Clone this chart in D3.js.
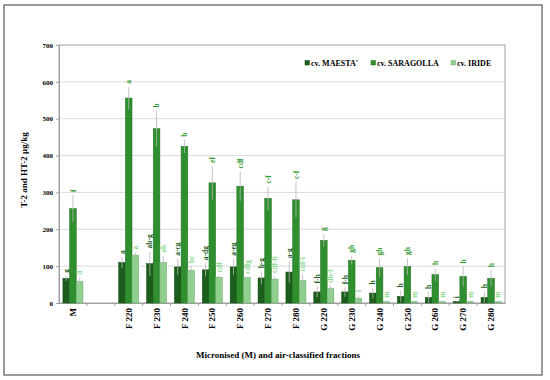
<!DOCTYPE html>
<html>
<head>
<meta charset="utf-8">
<script src="https://cdn.jsdelivr.net/npm/d3@7"></script>
<style>
  body { margin: 0; background: #fff; }
  text { font-family: "Liberation Serif", "Times New Roman", serif; font-weight: bold; }
</style>
</head>
<body>
<div id="chart"></div>
<script>
var svgWidth = 550;
var svgHeight = 380;

// categories (one empty slot between M and F 220)
var categories = ["M", "", "F 220", "F 230", "F 240", "F 250", "F 260", "F 270", "F 280",
  "G 220", "G 230", "G 240", "G 250", "G 260", "G 270", "G 280"];
var seriesNames = ["cv. MAESTA'", "cv. SARAGOLLA", "cv. IRIDE"];
var seriesColors = ["#1b5e1b", "#2f8f2f", "#8fd08f"];
var labelColors = ["#1b5e1b", "#2f9a2f", "#8ad88a"];

var maesta = [67, null, 110, 107, 98, 90, 98, 68, 84, 30, 30, 27, 18, 15, 4, 15];
var saragolla = [256, null, 556, 473, 425, 326, 317, 284, 280, 170, 116, 96, 99, 77, 72, 67];
var iride = [58, null, 130, 110, 89, 70, 69, 65, 61, 39, 13, 4, 4, 4, 4, 4];

var maestaErr = [7, null, 15, 33, 22, 18, 22, 18, 29, 15, 13, 15, 16, 15, 1, 17];
var saragollaErr = [37, null, 31, 49, 18, 46, 40, 32, 48, 17, 12, 25, 23, 18, 27, 22];
var irideErr = [10, null, 7, 18, 11, 5, 2, 8, 16, 8, 9, 2, 2, 2, 2, 2];

var maestaLetters = ["g", null, "a", "ab-g", "a-cg", "a-dg", "a-eg", "b-g", "a-g", "f-h", "f-h", "h", "h", "h", "i", "h"];
var saragollaLetters = ["f", null, "a", "b", "b", "ef", "cdf", "c-f", "c-f", "g", "gh", "gh", "gh", "h", "h", "h"];
var irideLetters = ["d", null, "a", "ab", "bc", "cdf", "cdfg", "cdf-h", "cdf-i", "dh-l", "l", "m", "m", "m", "m", "m"];

var yTicks = [0, 100, 200, 300, 400, 500, 600, 700];

var values = [maesta, saragolla, iride];
var errors = [maestaErr, saragollaErr, irideErr];
var letters = [maestaLetters, saragollaLetters, irideLetters];

var margin = { top: 45, left: 59 };
var width = 446;
var height = 258;

var svg = d3.select("#chart")
  .append("svg")
  .attr("width", svgWidth)
  .attr("height", svgHeight);

// outer frame
svg.append("rect")
  .attr("x", 4).attr("y", 5)
  .attr("width", 538).attr("height", 370)
  .attr("fill", "none")
  .attr("stroke", "#7a7a7a")
  .attr("stroke-width", 1.5);

var chartGroup = svg.append("g")
  .attr("transform", `translate(${margin.left}, ${margin.top})`);

var slotKeys = categories.map((c, i) => "k" + i);

var xScale = d3.scaleBand()
  .domain(slotKeys)
  .range([0, width])
  .padding(0);

var xInner = d3.scaleBand()
  .domain(d3.range(3))
  .range([xScale.bandwidth() * 0.14, xScale.bandwidth() * 0.86])
  .padding(0);

var yScale = d3.scaleLinear()
  .domain([0, 700])
  .range([height, 0]);

// grid lines
chartGroup.append("g")
  .selectAll("line")
  .data(yTicks.filter(t => t > 0 && t < 700))
  .enter()
  .append("line")
  .attr("x1", 0).attr("x2", width)
  .attr("y1", d => yScale(d)).attr("y2", d => yScale(d))
  .attr("stroke", "#dcdcdc")
  .attr("stroke-width", 1);

// plot frame
chartGroup.append("rect")
  .attr("x", 0).attr("y", 0)
  .attr("width", width).attr("height", height)
  .attr("fill", "none")
  .attr("stroke", "#a0a0a0")
  .attr("stroke-width", 1);

// y axis
var yAxis = d3.axisLeft(yScale).tickValues(yTicks).tickSize(3).tickPadding(3);
var yG = chartGroup.append("g").call(yAxis);
yG.select(".domain").attr("stroke", "#a0a0a0");
yG.selectAll(".tick line").attr("stroke", "#a0a0a0");
yG.selectAll("text")
  .attr("font-size", "7px")
  .attr("fill", "#000")
  .style("font-family", "Liberation Serif, serif")
  .style("font-weight", "bold");

// x axis
var xAxis = d3.axisBottom(xScale).tickFormat((d, i) => categories[i]).tickSize(0).tickPadding(0);
var xG = chartGroup.append("g")
  .attr("transform", `translate(0, ${height})`)
  .call(xAxis);
xG.select(".domain").attr("stroke", "#a0a0a0");
xG.selectAll("text")
  .attr("transform", "rotate(-90)")
  .attr("x", -5)
  .attr("y", 0)
  .attr("dy", "0.35em")
  .attr("text-anchor", "end")
  .attr("font-size", "9px")
  .attr("fill", "#000")
  .style("font-family", "Liberation Serif, serif")
  .style("font-weight", "bold");

// small tick marks between categories
chartGroup.append("g")
  .selectAll("line")
  .data(slotKeys.slice(1))
  .enter()
  .append("line")
  .attr("x1", d => xScale(d)).attr("x2", d => xScale(d))
  .attr("y1", height).attr("y2", height + 3)
  .attr("stroke", "#a0a0a0");

// bars
var groups = chartGroup.selectAll(".grp")
  .data(categories.map((c, i) => i).filter(i => categories[i] !== ""))
  .enter()
  .append("g")
  .attr("class", "grp")
  .attr("transform", i => `translate(${xScale(slotKeys[i])}, 0)`);

groups.each(function(i) {
  var g = d3.select(this);
  values.forEach(function(series, s) {
    var v = series[i];
    var e = errors[s][i];
    var bx = xInner(s);
    var bw = xInner.bandwidth();
    g.append("rect")
      .attr("x", bx)
      .attr("y", yScale(v))
      .attr("width", bw)
      .attr("height", yScale(0) - yScale(v))
      .attr("fill", seriesColors[s])
      .attr("stroke", d3.color(seriesColors[s]).darker(0.6))
      .attr("stroke-width", 0.5);
    g.append("line")
      .attr("x1", bx + bw / 2).attr("x2", bx + bw / 2)
      .attr("y1", yScale(Math.max(0, v - e))).attr("y2", yScale(v + e))
      .attr("stroke", "#b8b8b8")
      .attr("stroke-width", 0.8);
    g.append("text")
      .attr("transform", `translate(${bx + bw / 2}, ${yScale(v + e) - 3}) rotate(-90)`)
      .attr("dy", "0.35em")
      .attr("text-anchor", "start")
      .attr("font-size", "7.5px")
      .attr("fill", labelColors[s])
      .text(letters[s][i]);
  });
});

// legend
var legendX = [305, 371, 451];
var legend = chartGroup.selectAll(".legend")
  .data(seriesNames)
  .enter()
  .append("g")
  .attr("class", "legend")
  .attr("transform", (d, i) => `translate(${legendX[i] - margin.left}, ${63 - margin.top})`);
legend.append("rect")
  .attr("x", 0).attr("y", -2.5)
  .attr("width", 4.5).attr("height", 4.5)
  .attr("fill", (d, i) => seriesColors[i])
  .attr("stroke", (d, i) => d3.color(seriesColors[i]).darker(0.6))
  .attr("stroke-width", 0.5);
legend.append("text")
  .attr("x", 6)
  .attr("y", 0)
  .attr("dy", "0.35em")
  .attr("font-size", "8px")
  .attr("fill", "#000")
  .text(d => d);

// axis titles
svg.append("text")
  .attr("transform", "translate(27, 170) rotate(-90)")
  .attr("text-anchor", "middle")
  .attr("font-size", "9px")
  .attr("fill", "#000")
  .text("T-2 and HT-2 µg/kg");

svg.append("text")
  .attr("x", 278)
  .attr("y", 358)
  .attr("text-anchor", "middle")
  .attr("font-size", "9px")
  .attr("fill", "#000")
  .text("Micronised (M) and air-classified fractions");
</script>
</body>
</html>
